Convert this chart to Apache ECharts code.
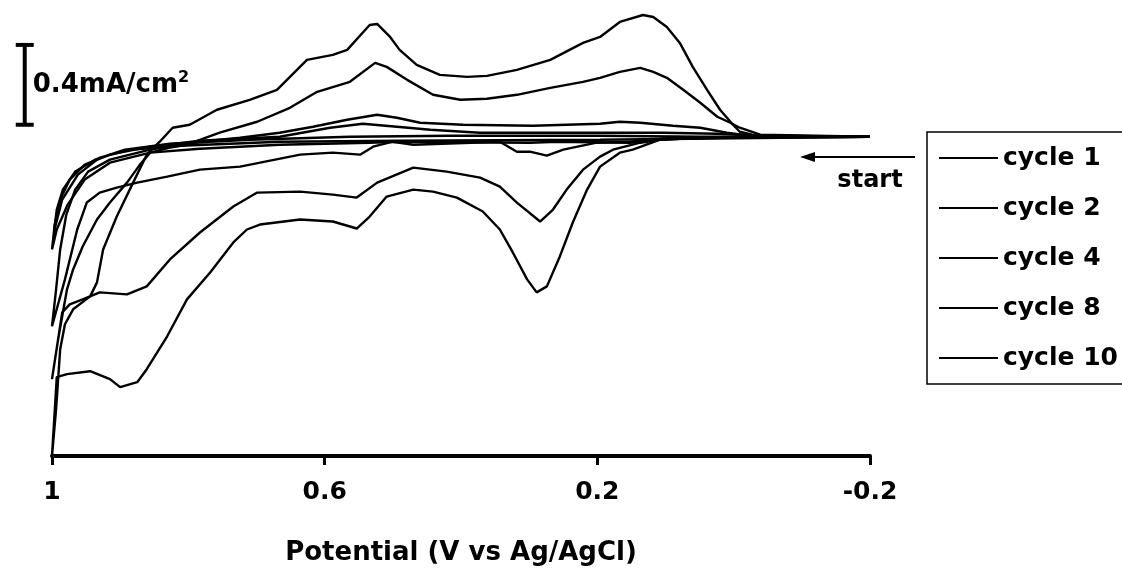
<!DOCTYPE html>
<html>
<head>
<meta charset="utf-8">
<script src="https://cdn.jsdelivr.net/npm/echarts@6/dist/echarts.min.js"></script>
<style>html,body{margin:0;padding:0;background:#fff}#c{width:1122px;height:571px}</style>
</head>
<body>
<div id="c"></div>
<script>
// Potential (V vs Ag/AgCl) and current density (mA/cm2), each cycle traced as a closed loop
const xTicks = [1, 0.6, 0.2, -0.2];
const cycleNames = ['cycle 1', 'cycle 2', 'cycle 4', 'cycle 8', 'cycle 10'];

const cycle1 = [[-0.2,0],[0.196,-0.015],[0.49,-0.02],[0.666,-0.025],[0.812,-0.045],[0.886,-0.065],[0.93,-0.105],[0.962,-0.19],[0.985,-0.315],[0.997,-0.475],
  [0.993,-0.365],[0.984,-0.265],[0.966,-0.175],[0.937,-0.115],[0.893,-0.065],[0.827,-0.035],[0.71,-0.015],[0.563,0],[0.416,0.005],[0.196,0.005],[0.049,0],[-0.2,0]];

const cycle2 = [[-0.2,0],[0.093,-0.005],[0.152,-0.03],[0.259,-0.025],[0.299,-0.03],[0.494,-0.025],[0.534,-0.03],[0.666,-0.04],[0.783,-0.06],[0.856,-0.08],[0.915,-0.13],[0.952,-0.215],[0.977,-0.34],[0.993,-0.465],[1.0,-0.565],
  [0.996,-0.44],[0.988,-0.315],[0.974,-0.215],[0.952,-0.14],[0.915,-0.09],[0.856,-0.05],[0.783,-0.02],[0.666,0],[0.592,0.045],[0.544,0.065],[0.494,0.05],[0.445,0.035],[0.372,0.02],[0.284,0.02],[0.104,0.02],[0.024,0.015],[-0.039,0.005],[-0.2,0]];

const cycle4 = [[-0.2,0],[0.079,-0.005],[0.152,-0.025],[0.201,-0.03],[0.25,-0.065],[0.274,-0.095],[0.299,-0.075],[0.318,-0.075],[0.343,-0.025],[0.47,-0.04],[0.5,-0.025],[0.529,-0.05],[0.548,-0.09],[0.588,-0.08],[0.636,-0.09],[0.724,-0.15],[0.783,-0.165],[0.831,-0.2],[0.875,-0.23],[0.905,-0.255],[0.93,-0.28],[0.949,-0.33],[0.963,-0.465],[0.981,-0.715],[1.0,-0.95],
  [0.994,-0.765],[0.988,-0.565],[0.979,-0.39],[0.966,-0.265],[0.947,-0.175],[0.915,-0.115],[0.856,-0.065],[0.783,-0.025],[0.724,-0.005],[0.666,0.02],[0.617,0.05],[0.567,0.085],[0.523,0.11],[0.494,0.095],[0.46,0.07],[0.397,0.06],[0.294,0.055],[0.196,0.065],[0.167,0.075],[0.137,0.07],[0.089,0.055],[0.049,0.045],[0.01,0.02],[-0.024,0.005],[-0.2,0]];

const cycle8 = [[-0.2,0],[0.049,-0.005],[0.108,-0.015],[0.137,-0.03],[0.177,-0.065],[0.196,-0.1],[0.221,-0.165],[0.245,-0.265],[0.265,-0.365],[0.284,-0.425],[0.318,-0.33],[0.343,-0.25],[0.372,-0.205],[0.421,-0.175],[0.47,-0.155],[0.523,-0.23],[0.553,-0.305],[0.588,-0.29],[0.636,-0.275],[0.699,-0.28],[0.734,-0.35],[0.783,-0.48],[0.827,-0.615],[0.861,-0.75],[0.89,-0.79],[0.93,-0.78],[0.955,-0.815],[0.974,-0.84],[0.985,-0.88],[1.0,-1.215],
  [0.991,-1.015],[0.984,-0.88],[0.978,-0.765],[0.969,-0.665],[0.955,-0.55],[0.934,-0.415],[0.915,-0.33],[0.89,-0.23],[0.871,-0.14],[0.856,-0.08],[0.827,-0.055],[0.802,-0.04],[0.754,0.02],[0.699,0.075],[0.651,0.145],[0.611,0.225],[0.563,0.275],[0.526,0.37],[0.509,0.35],[0.479,0.285],[0.441,0.21],[0.401,0.185],[0.362,0.19],[0.318,0.21],[0.269,0.245],[0.221,0.275],[0.196,0.295],[0.167,0.325],[0.137,0.345],[0.118,0.325],[0.098,0.295],[0.074,0.235],[0.049,0.17],[0.024,0.1],[0.005,0.07],[-0.009,0.045],[-0.039,0.01],[-0.2,0]];

const cycle10 = [[-0.2,0],[-0.039,0],[0.079,-0.01],[0.108,-0.015],[0.148,-0.065],[0.167,-0.08],[0.196,-0.15],[0.215,-0.265],[0.236,-0.43],[0.255,-0.6],[0.274,-0.75],[0.289,-0.78],[0.303,-0.715],[0.324,-0.58],[0.343,-0.465],[0.368,-0.375],[0.406,-0.305],[0.441,-0.275],[0.47,-0.265],[0.509,-0.3],[0.534,-0.4],[0.553,-0.46],[0.588,-0.425],[0.636,-0.415],[0.695,-0.44],[0.714,-0.465],[0.734,-0.53],[0.768,-0.68],[0.802,-0.815],[0.831,-1.0],[0.861,-1.165],[0.875,-1.23],[0.9,-1.255],[0.915,-1.215],[0.944,-1.175],[0.978,-1.19],[0.993,-1.205],[1.0,-1.6],
  [0.994,-1.365],[0.988,-1.065],[0.981,-0.94],[0.969,-0.865],[0.944,-0.8],[0.934,-0.73],[0.925,-0.565],[0.905,-0.4],[0.881,-0.23],[0.861,-0.09],[0.842,-0.025],[0.823,0.045],[0.798,0.06],[0.758,0.135],[0.71,0.185],[0.67,0.235],[0.626,0.385],[0.588,0.41],[0.567,0.435],[0.534,0.56],[0.523,0.565],[0.504,0.5],[0.49,0.435],[0.465,0.36],[0.431,0.31],[0.391,0.3],[0.362,0.305],[0.318,0.335],[0.269,0.385],[0.221,0.47],[0.196,0.5],[0.167,0.575],[0.133,0.61],[0.118,0.6],[0.098,0.55],[0.079,0.47],[0.06,0.35],[0.039,0.235],[0.02,0.135],[0.001,0.06],[-0.009,0.025],[-0.039,0],[-0.2,0]];

const cycles = [cycle1, cycle2, cycle4, cycle8, cycle10];
const scaleBar = {value: 0.4, from: 0.06, to: 0.46, at: 1.04, label: '0.4mA/cm'};

const FONT = 'DejaVu Sans';
const chart = echarts.init(document.getElementById('c'), null, {renderer: 'canvas'});

const option = {
  animation: false,
  backgroundColor: '#fff',
  grid: {left: 52, right: 252, top: 7, bottom: 114, containLabel: false},
  xAxis: {
    type: 'value', inverse: true, min: -0.2, max: 1, interval: 0.4,
    axisLine: {show: true, onZero: false, lineStyle: {color: '#000', width: 4}},
    axisTick: {show: true, length: 9, lineStyle: {color: '#000', width: 3}},
    splitLine: {show: false},
    axisLabel: {color: '#000', fontFamily: FONT, fontWeight: 'bold', fontSize: 25, margin: 24,
      formatter: v => String(Math.round(v * 10) / 10)},
    name: 'Potential (V vs Ag/AgCl)', nameLocation: 'middle', nameGap: 84,
    nameTextStyle: {color: '#000', fontFamily: FONT, fontWeight: 'bold', fontSize: 26}
  },
  yAxis: {type: 'value', min: -1.6, max: 0.65, show: false, splitLine: {show: false}},
  legend: {
    data: cycleNames, orient: 'vertical', left: 927, top: 132,
    icon: 'rect', itemWidth: 59, itemHeight: 2, itemGap: 24,
    padding: [13, 10, 13, 12],
    borderColor: '#000', borderWidth: 1.5, borderRadius: 0,
    textStyle: {color: '#000', fontFamily: FONT, fontWeight: 'bold', fontSize: 25, lineHeight: 26}
  },
  series: cycles.map((d, i) => ({
    name: cycleNames[i], type: 'line', data: d, showSymbol: false, symbol: 'none',
    clip: false, smooth: false,
    lineStyle: {color: '#000', width: 2.4}, itemStyle: {color: '#000'}
  }))
};
chart.setOption(option);

// annotations: scale bar (placed through the y scale) and the "start" arrow
const sx = chart.convertToPixel({xAxisIndex: 0}, scaleBar.at);
const yT = chart.convertToPixel({yAxisIndex: 0}, scaleBar.to);
const yB = chart.convertToPixel({yAxisIndex: 0}, scaleBar.from);
chart.setOption({
  graphic: [
    {type: 'line', shape: {x1: sx, y1: yT, x2: sx, y2: yB}, style: {stroke: '#000', lineWidth: 4}},
    {type: 'line', shape: {x1: sx - 9, y1: yT, x2: sx + 9, y2: yT}, style: {stroke: '#000', lineWidth: 4}},
    {type: 'line', shape: {x1: sx - 9, y1: yB, x2: sx + 9, y2: yB}, style: {stroke: '#000', lineWidth: 4}},
    {type: 'text', x: sx + 8, y: (yT + yB) / 2, style: {
      text: scaleBar.label + '{sup|2}', fill: '#000', font: 'bold 26px "DejaVu Sans"',
      verticalAlign: 'middle', align: 'left',
      rich: {sup: {fontSize: 16, fontWeight: 'bold', fontFamily: FONT, fill: '#000', verticalAlign: 'top', padding: [0, 0, 14, 0]}}
    }},
    {type: 'line', shape: {x1: 915, y1: 157, x2: 810, y2: 157}, style: {stroke: '#000', lineWidth: 2}},
    {type: 'polygon', shape: {points: [[800, 157], [815, 152], [815, 162]]}, style: {fill: '#000'}},
    {type: 'text', x: 870, y: 181, style: {text: 'start', fill: '#000', font: 'bold 24px "DejaVu Sans"', align: 'center', verticalAlign: 'middle'}}
  ]
});
</script>
</body>
</html>
